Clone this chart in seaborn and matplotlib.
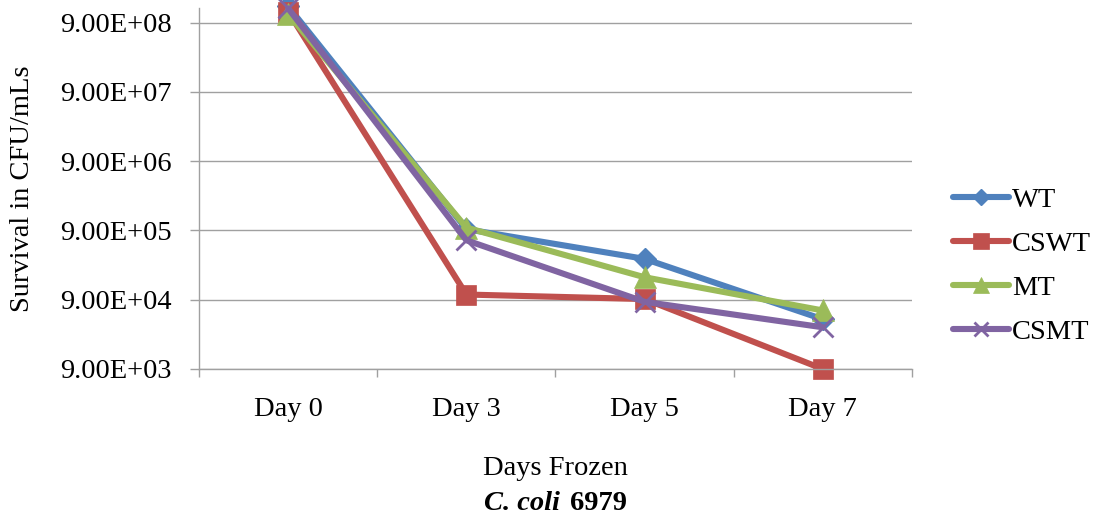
import matplotlib
matplotlib.use("Agg")
import matplotlib.pyplot as plt
from matplotlib.ticker import FuncFormatter, NullLocator, FixedLocator
from matplotlib.offsetbox import TextArea, HPacker, AnchoredOffsetbox
import seaborn as sns
import pandas as pd

# Survival of C. coli 6979 strains after freezing (CFU/mL)
days = ["Day 0", "Day 3", "Day 5", "Day 7"]
strains = ["WT", "CSWT", "MT", "CSMT"]
wt = [1.55e9, 9.4e5, 3.5e5, 4.7e4]
cswt = [1.3e9, 1.07e5, 9.2e4, 9.0e3]
mt = [1.2e9, 9.9e5, 1.9e5, 6.3e4]
csmt = [1.45e9, 6.5e5, 8.4e4, 3.6e4]
y_ticks = [9e3, 9e4, 9e5, 9e6, 9e7, 9e8]

values = {"WT": wt, "CSWT": cswt, "MT": mt, "CSMT": csmt}
df = pd.DataFrame(
    [(s, d, v) for s in strains for d, v in zip(days, values[s])],
    columns=["strain", "day", "cfu"],
)

colors = {"WT": "#4F81BD", "CSWT": "#C0504D", "MT": "#9BBB59", "CSMT": "#8064A2"}
markers = {"WT": "D", "CSWT": "s", "MT": "^", "CSMT": "x"}
msizes = {"WT": 11.5, "CSWT": 15, "MT": 16, "CSMT": 14}
mews = {"WT": 1.0, "CSWT": 0.5, "MT": 0.5, "CSMT": 2.0}

sns.set_theme(style="white")
plt.rcParams["font.family"] = ["Liberation Serif", "DejaVu Serif"]
plt.rcParams["text.color"] = "black"
plt.rcParams["axes.labelcolor"] = "black"
FS = 20.5
GRID = "#A0A0A0"

fig = plt.figure(figsize=(10.99, 5.2), dpi=100)
fig.subplots_adjust(left=0.1811, right=0.8298, bottom=0.2904, top=0.9846)
ax = fig.add_subplot(111)

for s in strains:
    sns.lineplot(
        data=df[df["strain"] == s], x="day", y="cfu", ax=ax,
        color=colors[s], marker=markers[s], markersize=msizes[s],
        markeredgecolor=colors[s], markeredgewidth=mews[s],
        linewidth=4.4, label=s, clip_on=False,
    )

ax.set_yscale("log")
ax.set_ylim(9e3, 1.466e9)
ax.yaxis.set_major_locator(FixedLocator(y_ticks))
ax.yaxis.set_minor_locator(NullLocator())
ax.yaxis.set_major_formatter(FuncFormatter(lambda v, p: f"{v:.2E}"))

ax.set_xlim(-0.5, len(days) - 0.5)
ax.set_xticks(range(len(days)))
ax.set_xticklabels(days)
ax.set_xticks([i - 0.5 for i in range(len(days) + 1)], minor=True)

ax.yaxis.grid(True, color=GRID, linewidth=1.0)
ax.xaxis.grid(False)
for side in ["top", "right"]:
    ax.spines[side].set_visible(False)
for side in ["left", "bottom"]:
    ax.spines[side].set_color(GRID)
    ax.spines[side].set_linewidth(1.0)

ax.tick_params(axis="y", which="major", left=True, length=6.5, width=1.0,
               color=GRID, pad=13, labelsize=FS, labelcolor="black")
ax.tick_params(axis="x", which="major", bottom=True, length=0, pad=20,
               labelsize=FS, labelcolor="black")
ax.tick_params(axis="x", which="minor", bottom=True, length=5.5, width=1.0,
               color=GRID)

ax.set_ylabel("Survival in CFU/mLs", fontsize=FS, va="center", color="black")
ax.yaxis.set_label_coords(-0.247, 0.5)
ax.set_xlabel("Days Frozen", fontsize=FS, va="center", color="black")
ax.xaxis.set_label_coords(0.5, -0.277)

handles, labels = ax.get_legend_handles_labels()
leg = ax.legend(
    handles, labels, loc="center left", bbox_to_anchor=(0.8672, 0.4885),
    bbox_transform=fig.transFigure, frameon=False, fontsize=FS,
    handlelength=1.96, handletextpad=0.1, labelspacing=0.63,
    borderpad=0, borderaxespad=0, markerscale=0.75, numpoints=1,
)
for t in leg.get_texts():
    t.set_color("black")

# Strain subtitle: italic genus/species followed by the strain number
title_font = dict(fontsize=FS, fontweight="bold", color="black",
                  family=["Liberation Serif", "DejaVu Serif"])
part1 = TextArea("C. coli", textprops=dict(title_font, fontstyle="italic"))
part2 = TextArea("6979", textprops=title_font)
box = HPacker(children=[part1, part2], align="baseline", pad=0, sep=7)
anchored = AnchoredOffsetbox(
    loc="center", child=box, pad=0, borderpad=0, frameon=False,
    bbox_to_anchor=(555.5 / 1099, 1 - 503 / 520), bbox_transform=fig.transFigure,
)
fig.add_artist(anchored)

fig.savefig("out.png", dpi=100)
